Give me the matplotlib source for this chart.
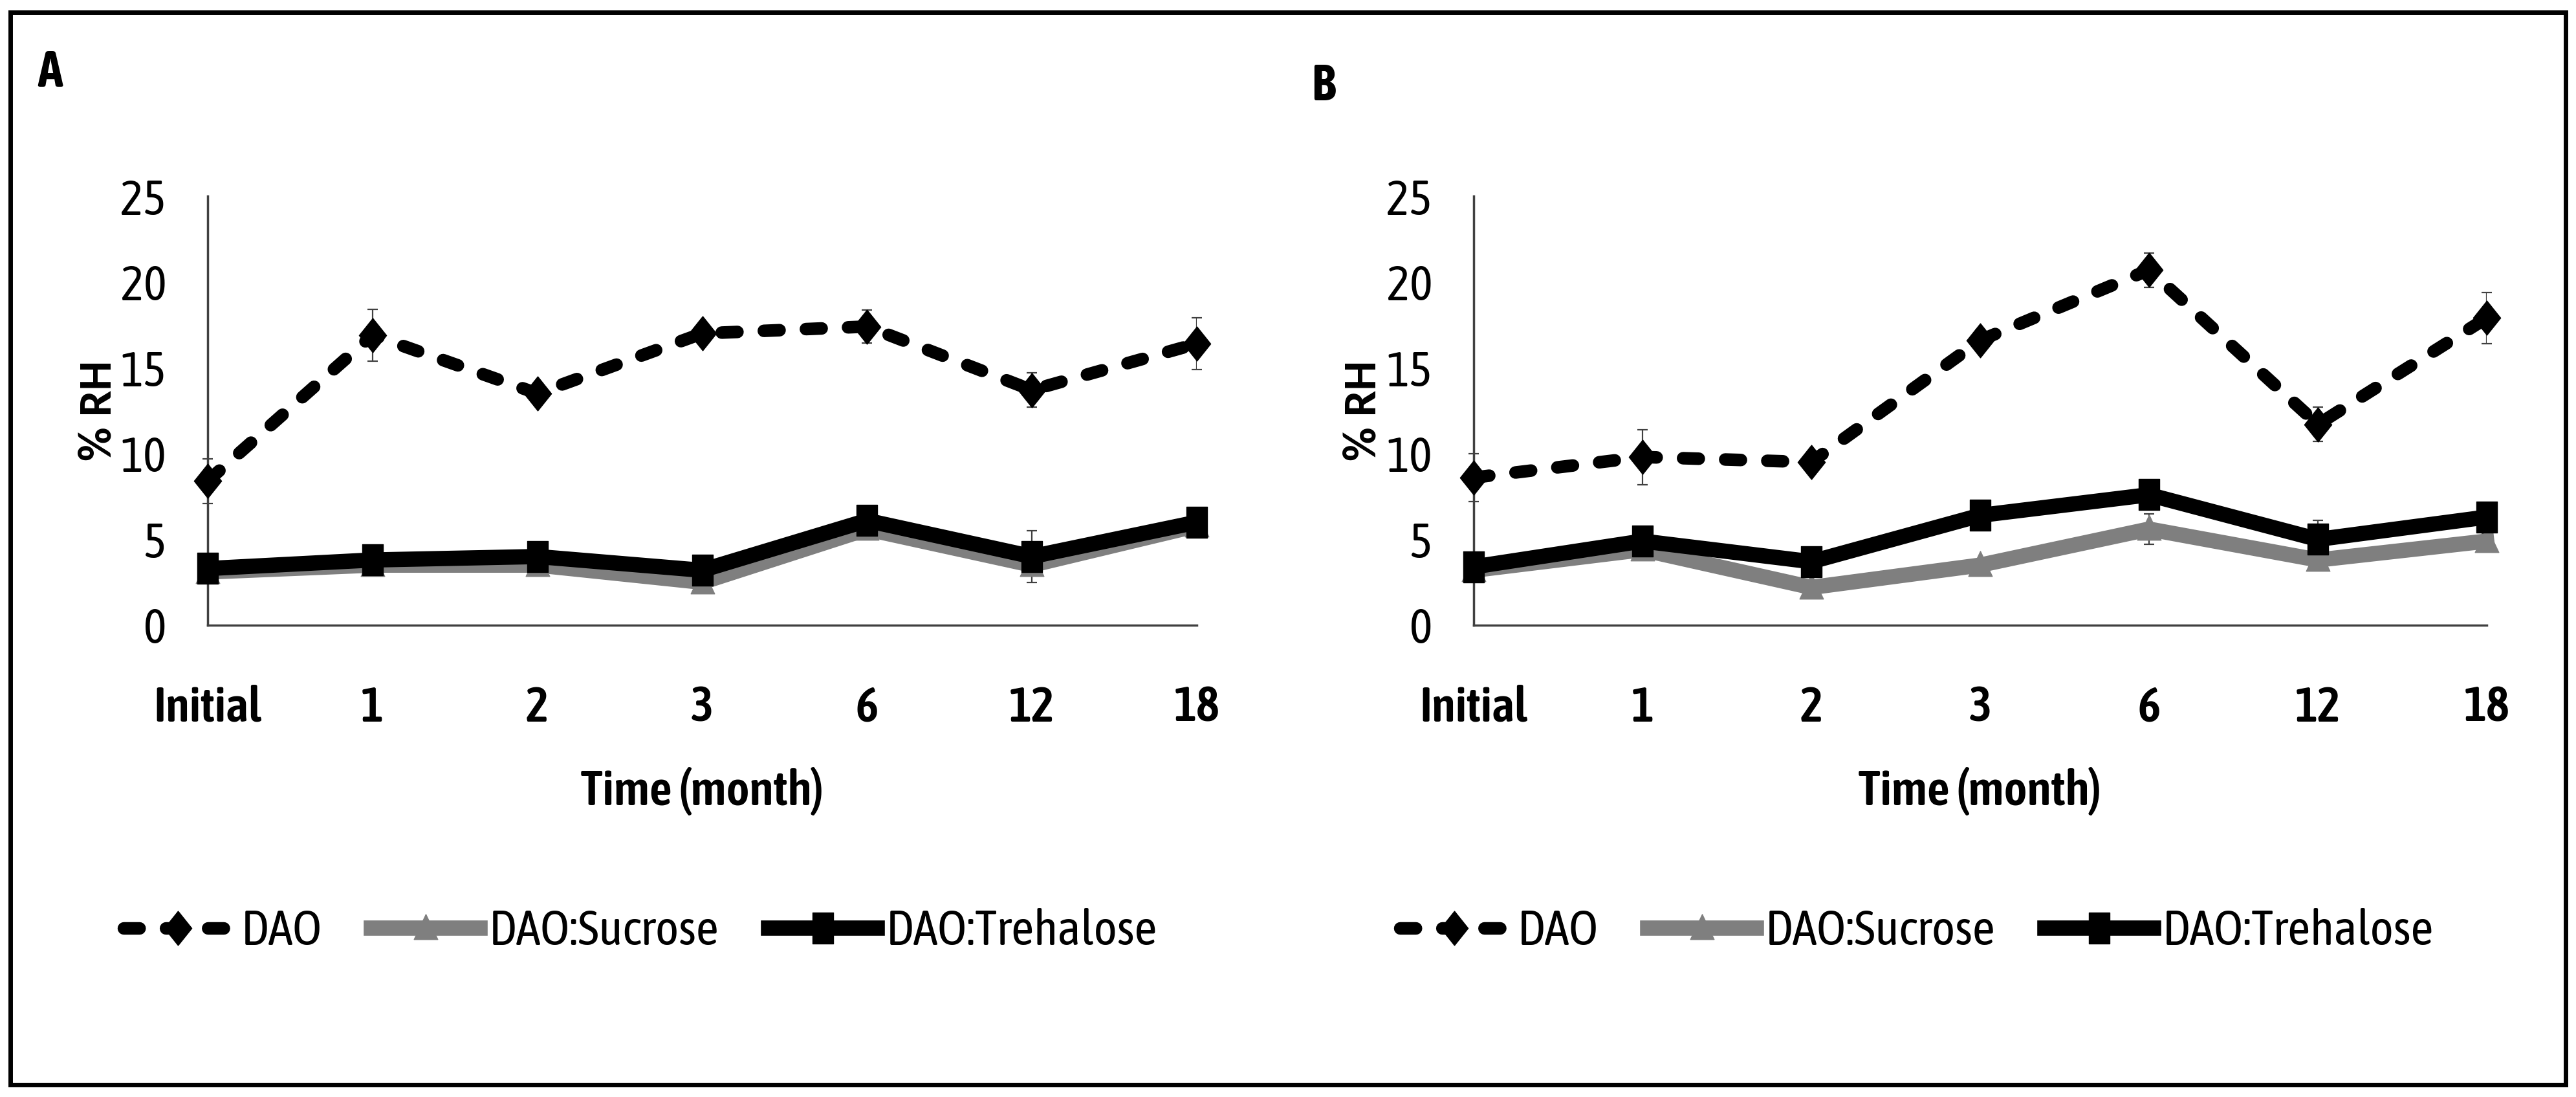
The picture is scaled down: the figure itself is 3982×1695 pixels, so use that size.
import matplotlib
matplotlib.use('Agg')
import matplotlib.pyplot as plt
from matplotlib import font_manager
from matplotlib.path import Path
from matplotlib.patches import Rectangle

installed = {f.name for f in font_manager.fontManager.ttflist}


def first_font(names, default):
    for name in names:
        if name in installed:
            return name
    return default


# the picture is squeezed sideways: horizontal text looks condensed,
# the rotated y label does not
narrow_font = first_font(['Asap Condensed', 'Cabin Condensed', 'Archivo Narrow',
                          'Liberation Sans Narrow'], 'DejaVu Sans')
wide_font = first_font(['Carlito', 'Asap', 'Liberation Sans'], 'DejaVu Sans')
plt.rcParams['font.family'] = [narrow_font, 'DejaVu Sans']
plt.rcParams['font.stretch'] = 'condensed'

W, H = 3982, 1695
DPI = 100

# data
months = ['Initial', '1', '2', '3', '6', '12', '18']
series_names = ['DAO', 'DAO:Sucrose', 'DAO:Trehalose']

a_dao = [8.4, 16.9, 13.5, 17.0, 17.4, 13.7, 16.4]
a_dao_err = [1.3, 1.5, 0.3, 0.3, 0.95, 1.0, 1.5]
a_sucrose = [3.1, 3.5, 3.5, 2.5, 5.6, 3.5, 5.8]
a_sucrose_err = [0.3, 0.3, 0.4, 0.4, 0.5, 0.4, 0.3]
a_trehalose = [3.3, 3.8, 4.0, 3.2, 6.1, 4.0, 6.0]
a_trehalose_err = [0.3, 0.3, 0.3, 0.3, 0.4, 1.5, 0.5]

b_dao = [8.6, 9.8, 9.5, 16.6, 20.7, 11.7, 17.9]
b_dao_err = [1.4, 1.6, 0.2, 0.6, 1.0, 1.0, 1.5]
b_sucrose = [3.2, 4.4, 2.2, 3.5, 5.6, 3.8, 4.9]
b_sucrose_err = [0.3, 0.3, 0.3, 0.3, 0.9, 0.4, 0.4]
b_trehalose = [3.4, 4.9, 3.7, 6.4, 7.6, 5.0, 6.3]
b_trehalose_err = [0.3, 0.3, 0.3, 0.3, 0.4, 1.1, 0.4]

y_ticks = [0, 5, 10, 15, 20, 25]

# squeezed markers too
diamond = Path([(0, 1), (0.8, 0), (0, -1), (-0.8, 0), (0, 1)], closed=True)
tall_square = Path([(-0.68, -1), (0.68, -1), (0.68, 1), (-0.68, 1), (-0.68, -1)], closed=True)
triangle = Path([(0, 1), (0.85, -0.8), (-0.85, -0.8), (0, 1)], closed=True)

gray = '#7f7f7f'
styles = [
    dict(color='black', lw=14, marker=diamond, ms=38, dashes=(1.25, 2.1),
         dash_capstyle='round', zorder=4),
    dict(color=gray, lw=17, marker=triangle, ms=31, zorder=3),
    dict(color='black', lw=17, marker=tall_square, ms=34, zorder=5),
]

FS = 54


def draw_panel(ax, values, errors, ylabel_x):
    x = range(len(months))
    handles = []
    for vals, errs, st in zip(values, errors, styles):
        ax.errorbar(x, vals, yerr=errs, fmt='none', ecolor='#404040',
                    elinewidth=1.6, capsize=6, capthick=1.6, zorder=2)
        line, = ax.plot(x, vals, mec=st['color'], mfc=st['color'], **st)
        handles.append(line)
    ax.set_xlim(0, len(months) - 1)
    ax.set_ylim(0, 25)
    ax.set_xticks(list(x))
    ax.set_xticklabels(months, fontsize=FS, fontweight='semibold')
    ax.set_yticks(y_ticks)
    ax.set_yticklabels([str(t) for t in y_ticks], fontsize=FS)
    ax.tick_params(axis='x', length=0, pad=66)
    ax.tick_params(axis='y', length=0, pad=46)
    for side in ['top', 'right']:
        ax.spines[side].set_visible(False)
    for side in ['left', 'bottom']:
        ax.spines[side].set_color('#404040')
        ax.spines[side].set_linewidth(2.5)
    ax.set_xlabel('Time (month)', fontsize=FS + 1, fontweight='semibold')
    ax.xaxis.set_label_coords(0.5, -0.33)
    ax.set_ylabel('% RH', fontsize=52, fontweight='bold',
                  family=[wide_font, 'DejaVu Sans'], fontstretch='normal')
    ax.yaxis.set_label_coords(ylabel_x, 0.5)
    for line in ax.lines:
        line.set_clip_on(False)
    return handles


fig = plt.figure(figsize=(W / DPI, H / DPI), dpi=DPI, facecolor='white')

axA = fig.add_axes([321 / W, 1 - 966 / H, 1529 / W, 663 / H])
axB = fig.add_axes([2278 / W, 1 - 966 / H, 1566 / W, 663 / H])

hA = draw_panel(axA, [a_dao, a_sucrose, a_trehalose],
                [a_dao_err, a_sucrose_err, a_trehalose_err], -0.09)
hB = draw_panel(axB, [b_dao, b_sucrose, b_trehalose],
                [b_dao_err, b_sucrose_err, b_trehalose_err], -0.089)

for ax, handles, cx in [(axA, hA, 990 / W), (axB, hB, 2963 / W)]:
    ax.legend(handles, series_names, loc='center', ncol=3, frameon=False,
              bbox_to_anchor=(cx, 1 - 1440 / H), bbox_transform=fig.transFigure,
              fontsize=FS + 1, handlelength=2.2, handletextpad=0.18,
              columnspacing=1.0, markerscale=1.0)

fig.text(77 / W, 1 - 112 / H, 'A', fontsize=56, fontweight='bold',
         ha='center', va='center')
fig.text(2046 / W, 1 - 133 / H, 'B', fontsize=56, fontweight='bold',
         ha='center', va='center')

# outer frame
fig.patches.append(Rectangle((15.5 / W, 1 - 1676 / H), (3966 - 15.5) / W,
                             (1676 - 18.5) / H, transform=fig.transFigure,
                             fill=False, edgecolor='black', lw=5))

fig.savefig('out.png', dpi=DPI, facecolor='white')
